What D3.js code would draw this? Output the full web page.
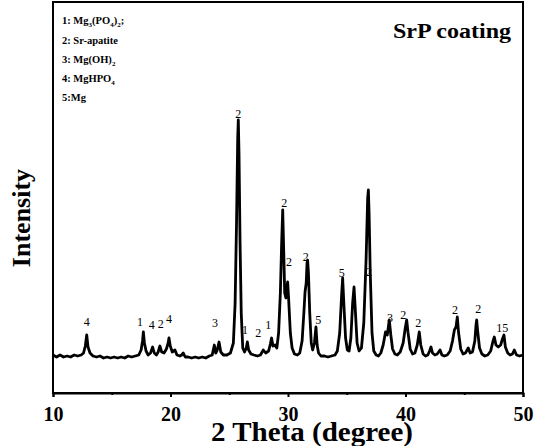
<!DOCTYPE html>
<html><head><meta charset="utf-8">
<script src="https://cdn.jsdelivr.net/npm/d3@7/dist/d3.min.js"></script>
<style>
body{margin:0;background:#fff}
svg{display:block}
text{font-family:"Liberation Serif","Times New Roman",serif;font-weight:bold;fill:#000}
</style>
</head><body>
<svg id="c" width="542" height="446"></svg>
<script>
// 2θ (degree) positions of the measured pattern
const theta = [10.0,10.3,10.6,10.9,11.2,11.5,11.8,12.1,12.4,12.6,12.75,12.87,12.98,13.15,13.4,13.7,14.0,14.3,14.6,14.9,15.2,15.5,15.8,16.1,16.4,16.7,17.0,17.3,17.5,17.62,17.69,17.78,17.92,18.1,18.3,18.48,18.62,18.8,18.95,19.1,19.25,19.45,19.65,19.8,19.87,19.98,20.15,20.38,20.55,20.8,20.95,21.09,21.25,21.5,21.8,22.1,22.4,22.7,23.0,23.3,23.55,23.73,23.85,23.98,24.13,24.28,24.5,24.8,25.1,25.35,25.5,25.62,25.72,25.77,25.83,25.92,26.02,26.15,26.3,26.45,26.54,26.65,26.85,27.1,27.4,27.65,27.9,28.1,28.35,28.5,28.6,28.72,28.9,29.05,29.2,29.35,29.46,29.55,29.64,29.72,29.82,29.9,29.97,30.05,30.2,30.35,30.55,30.8,31.0,31.2,31.35,31.45,31.55,31.62,31.67,31.74,31.85,31.98,32.1,32.25,32.38,32.48,32.6,32.8,33.1,33.4,33.7,34.0,34.2,34.4,34.55,34.65,34.75,34.9,35.05,35.2,35.35,35.5,35.62,35.72,35.88,36.05,36.25,36.45,36.65,36.78,36.84,36.9,37.0,37.15,37.3,37.5,37.7,37.9,38.1,38.3,38.45,38.62,38.75,38.9,39.1,39.3,39.55,39.8,39.98,40.1,40.22,40.4,40.6,40.8,41.0,41.17,41.3,41.5,41.7,41.9,42.05,42.17,42.3,42.5,42.7,42.94,43.1,43.3,43.55,43.8,44.0,44.16,44.3,44.41,44.52,44.7,44.9,45.1,45.34,45.5,45.7,45.9,46.0,46.06,46.14,46.3,46.5,46.75,47.0,47.25,47.45,47.56,47.7,47.9,48.1,48.25,48.38,48.5,48.7,48.9,49.1,49.26,49.45,49.7,50.0];
// Intensity (a.u.)
const intensity = [38,36,38,36,37,36,38,37,38,40,47,58,46,40,37,36,37,35,36,35,36,35,36,35,37,36,37,38,43,52,61,50,42,38,40,46,40,38,41,47,41,40,44,50,55,47,41,43,38,37,38,40,36,36,35,36,35,36,35,37,38,48,40,43,51,41,38,38,40,50,90,170,255,273,240,150,80,45,41,45,51,43,39,38,37,38,43,40,42,49,55,47,48,45,60,100,150,183,140,100,95,105,111,95,60,45,39,38,40,52,80,101,110,130,133,120,80,50,43,50,66,48,40,37,37,36,37,38,42,60,95,115,90,55,43,42,55,90,106,85,50,42,45,70,135,195,203,180,120,60,42,38,37,40,48,61,58,73,58,44,39,38,41,50,65,73,60,44,39,40,48,61,48,39,37,38,42,46,40,38,39,43,38,37,38,42,52,63,66,76,60,44,39,40,45,40,41,52,68,73,62,45,39,37,38,42,52,56,48,46,48,54,58,46,40,38,39,43,38,37,38];

// Phase labels above peaks
const peakLabelTheta = [12.87,17.4,18.4,19.17,19.87,23.79,25.77,26.34,27.47,28.32,29.69,30.09,31.5,32.58,34.57,36.89,38.68,39.81,41.09,44.21,46.19,48.24];
const peakLabelIntensity = [67,67,64,65,70,66,275,59,56,64,186,127,132,69,116,117,71,74,66,79,80,61];
const peakLabelText = ["4","1","4","2","4","3","2","1","2","1","2","2","2","5","5","2","3","2","2","2","2","15"];

// Legend lines ({n} = subscript)
const legendLines = ["1: Mg{3}(PO{4}){2};","2: Sr-apatite","3: Mg(OH){2}","4: MgHPO{4}","5:Mg"];

const xDomain = [10, 50];
const yDomain = [0, 391];
const xMajorTicks = [10, 20, 30, 40, 50];
const xMinorTicks = [15, 25, 35, 45];
const title = "SrP coating";
const xTitle = "2 Theta (degree)";
const yTitle = "Intensity";

const svg = d3.select("#c");
const L = 53, R = 523, T = 2, B = 393;
const x = d3.scaleLinear().domain(xDomain).range([L, R]);
const y = d3.scaleLinear().domain(yDomain).range([B, T]);

// frame
svg.append("rect").attr("x", L).attr("y", T).attr("width", R - L).attr("height", B - T)
  .attr("fill", "none").attr("stroke", "#000").attr("stroke-width", 2);

// x axis major
const ax = svg.append("g").attr("transform", `translate(0,${B})`)
  .call(d3.axisBottom(x).tickValues(xMajorTicks).tickSize(4).tickPadding(10).tickFormat(d3.format("d")));
ax.select(".domain").attr("stroke-width", 2);
ax.selectAll(".tick line").attr("stroke-width", 2);
ax.selectAll(".tick text").style("font-size", "20px").style("font-family", '"Liberation Serif",serif').style("font-weight", "bold");
const axm = svg.append("g").attr("transform", `translate(0,${B})`)
  .call(d3.axisBottom(x).tickValues(xMinorTicks).tickSize(2).tickFormat(""));
axm.select(".domain").remove();
axm.selectAll(".tick line").attr("stroke-width", 2);

// pattern
const pts = theta.map((t, i) => [t, intensity[i]]);
svg.append("path").datum(pts)
  .attr("fill", "none").attr("stroke", "#000").attr("stroke-width", 2.8).attr("stroke-linejoin", "round")
  .attr("d", d3.line().x(d => x(d[0])).y(d => y(d[1])));

// peak labels
svg.append("g").selectAll("text").data(peakLabelText).join("text")
  .attr("x", (d, i) => x(peakLabelTheta[i])).attr("y", (d, i) => y(peakLabelIntensity[i]))
  .attr("text-anchor", "middle").style("font-size", "12px").style("font-weight", "normal").text(d => d);

// legend
const lg = svg.append("g");
const legendY = [24, 44, 63, 82, 101];
legendLines.forEach((s, i) => {
  const t = lg.append("text").attr("x", 62).attr("y", legendY[i]).style("font-size", "10.5px");
  const parts = s.split(/(\{[^}]*\})/).filter(p => p.length);
  let shift = 0;
  parts.forEach(p => {
    if (p[0] === "{") {
      t.append("tspan").attr("dy", 3 - shift).style("font-size", "7px").text(p.slice(1, -1));
      shift = 3;
    } else {
      t.append("tspan").attr("dy", -shift).text(p);
      shift = 0;
    }
  });
});

// title
svg.append("text").attr("x", 393).attr("y", 38).attr("textLength", 118).attr("lengthAdjust", "spacingAndGlyphs")
  .style("font-size", "20px").text(title);

// axis titles
svg.append("text").attr("x", 312).attr("y", 441).attr("text-anchor", "middle")
  .attr("textLength", 202).attr("lengthAdjust", "spacingAndGlyphs")
  .style("font-size", "27px").text(xTitle);
svg.append("text").attr("transform", "translate(30,218) rotate(-90)").attr("text-anchor", "middle")
  .style("font-size", "26px").text(yTitle);
</script>
</body></html>
